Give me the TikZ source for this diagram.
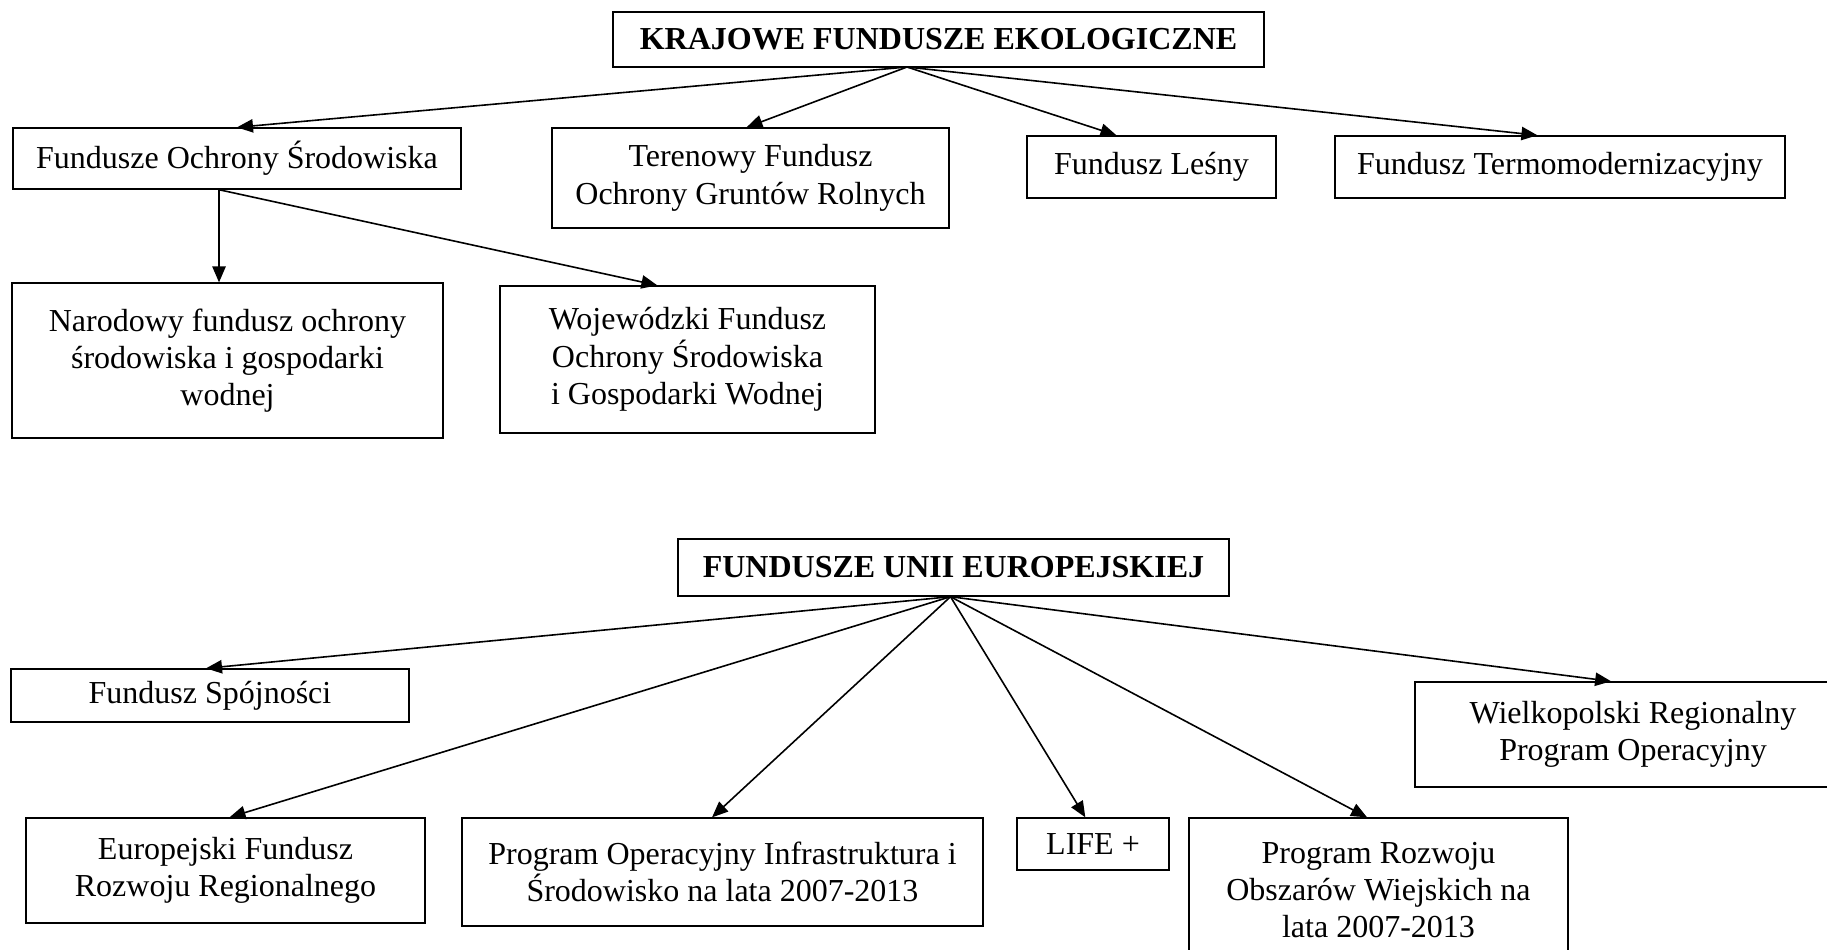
\documentclass[tikz,border=0pt]{standalone}
\usepackage{fontspec}
\setmainfont{Liberation Serif}
\usetikzlibrary{arrows.meta,calc}

\begin{document}
\begin{tikzpicture}[x=0.375pt, y=-0.375pt]
	\tikzstyle{fund} = [ draw, rectangle, line width=0.5pt, inner sep=2pt, align=center, font={\fontsize{12}{14}\selectfont}];
	\tikzstyle{head} = [ fund, font={\fontsize{12}{14}\selectfont\bfseries}];
	\tikzstyle{point} = [ -{Triangle[length=6pt,width=5pt]}, line width=0.6pt];

	\useasboundingbox (0,0) rectangle (1827,949);

	% krajowe fundusze
	\node[head, minimum width=244.1pt, minimum height=20.6pt] (krajowe) at (938.5,39.5) {KRAJOWE FUNDUSZE EKOLOGICZNE};
	\node[fund, minimum width=168pt, minimum height=22.9pt] (fos) at (237,158.5) {Fundusze Ochrony Środowiska};
	\node[fund, minimum width=148.9pt, minimum height=37.5pt] (teren) at (750.5,178) {Terenowy Fundusz\\Ochrony Gruntów Rolnych};
	\node[fund, minimum width=93.4pt, minimum height=23.3pt] (lesny) at (1151.5,167) {Fundusz Leśny};
	\node[fund, minimum width=168.8pt, minimum height=23.3pt] (termo) at (1560,167) {Fundusz Termomodernizacyjny};
	\node[fund, minimum width=161.6pt, minimum height=58.1pt] (narod) at (227.5,360.5) {Narodowy fundusz ochrony\\środowiska i gospodarki\\wodnej};
	\node[fund, minimum width=140.6pt, minimum height=55.1pt] (woj) at (687.5,359.5) {Wojewódzki Fundusz\\Ochrony Środowiska\\i Gospodarki Wodnej};

	\coordinate (kSrc) at (907,67);
	\foreach \t/\f in {fos/0.5, teren/0.49, lesny/0.36, termo/0.45}
		\draw[point] (kSrc) -- ($(\t.north west)!\f!(\t.north east)$);

	\coordinate (fSrc) at ($(fos.south west)!0.46!(fos.south east)$);
	\draw[point] (fSrc) -- (fSrc |- narod.north);
	\draw[point] (fSrc) -- ($(woj.north west)!0.42!(woj.north east)$);

	% fundusze unii europejskiej
	\node[head, minimum width=206.6pt, minimum height=21.4pt] (fue) at (953.5,567.5) {FUNDUSZE UNII EUROPEJSKIEJ};
	\node[fund, minimum width=149.3pt, minimum height=19.9pt] (spojn) at (210,695.5) {Fundusz Spójności};
	\node[fund, minimum width=149.6pt, minimum height=39.4pt] (efrr) at (225.5,870.5) {Europejski Fundusz\\Rozwoju Regionalnego};
	\node[fund, minimum width=195.4pt, minimum height=40.5pt] (poiis) at (722.5,872) {Program Operacyjny Infrastruktura i\\Środowisko na lata 2007-2013};
	\node[fund, minimum width=57pt, minimum height=19.5pt] (life) at (1093,844) {LIFE +};
	\node[fund, minimum width=142.1pt, minimum height=54pt] (prow) at (1378.5,890) {Program Rozwoju\\Obszarów Wiejskich na\\lata 2007-2013};
	\node[fund, minimum width=163.5pt, minimum height=39.4pt] (wielko) at (1633,734.5) {Wielkopolski Regionalny\\Program Operacyjny};

	\coordinate (uSrc) at ($(fue.south)+(-3,0)$);
	\foreach \t/\f in {spojn/0.49, efrr/0.51, poiis/0.48, life/0.45, prow/0.47, wielko/0.45}
		\draw[point] (uSrc) -- ($(\t.north west)!\f!(\t.north east)$);
\end{tikzpicture}
\end{document}
